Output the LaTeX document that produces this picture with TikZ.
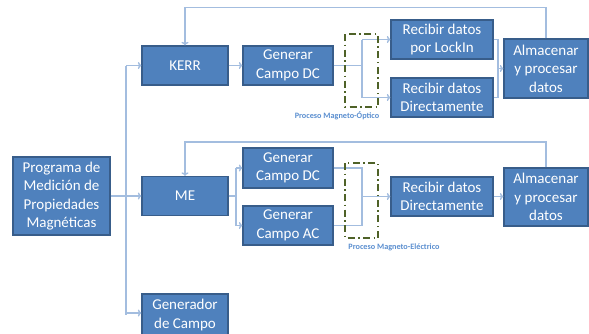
\documentclass[tikz,border=0pt]{standalone}
\usepackage{fontspec}
\setmainfont{Carlito}
\usetikzlibrary{arrows.meta,calc}
\definecolor{boxfill}{HTML}{4F81BD}
\definecolor{boxline}{HTML}{385D8A}
\definecolor{conn}{HTML}{A3BDDF}
\definecolor{olive}{HTML}{4F6228}
\definecolor{lbl}{HTML}{5B8FD0}
\tikzset{
  blk/.style={draw=boxline, line width=1.3pt, fill=boxfill, text=white, align=center,
    font=\fontsize{15}{18.5}\selectfont, inner sep=0pt},
  ln/.style={draw=conn, line width=1.4pt},
  arr/.style={ln, -{To[length=3.5pt,width=7pt]}},
  procbox/.style={draw=olive, line width=2pt, dash pattern=on 7pt off 3.5pt on 1.5pt off 3.5pt},
  lab/.style={text=lbl, font=\fontsize{8.2}{9}\selectfont\bfseries, inner sep=0pt}
}
\begin{document}
\begin{tikzpicture}[x=1pt,y=-1pt]
\useasboundingbox (0,0) rectangle (589,333);
\clip (0,0) rectangle (589,333);
\fill[white] (0,0) rectangle (589,333);
% boxes
\node[blk, minimum width=97pt, minimum height=78pt] (prog) at (61.5,196) {Programa de\\Medición de\\Propiedades\\Magnéticas};
\node[blk, minimum width=86pt, minimum height=39pt] (kerr) at (185,65.5) {KERR};
\node[blk, minimum width=90pt, minimum height=39pt] (gdc1) at (288,65.5) {Generar\\Campo DC};
\node[blk, minimum width=102pt, minimum height=39pt] (lock) at (442,39.5) {Recibir datos\\por LockIn};
\node[blk, minimum width=102pt, minimum height=39pt] (dir1) at (442,97.5) {Recibir datos\\Directamente};
\node[blk, minimum width=84pt, minimum height=59pt] (alm1) at (546,68.5) {Almacenar\\y procesar\\datos};
\node[blk, minimum width=86pt, minimum height=39pt] (me) at (185,196) {ME};
\node[blk, minimum width=90pt, minimum height=40pt] (gdc2) at (288,168) {Generar\\Campo DC};
\node[blk, minimum width=90pt, minimum height=39pt] (gac) at (288,225.5) {Generar\\Campo AC};
\node[blk, minimum width=102pt, minimum height=39pt] (dir2) at (442,196.5) {Recibir datos\\Directamente};
\node[blk, minimum width=84pt, minimum height=58pt] (alm2) at (546,197) {Almacenar\\y procesar\\datos};
\node[blk, minimum width=86pt, minimum height=42pt] (gen) at (185,315) {Generador\\de Campo};
% left distribution
\coordinate (sp) at (126,196);
\draw[arr] (prog.east) -- (me.west);
\draw[ln] (sp |- kerr.west) -- (sp |- gen.west);
\draw[arr] (sp |- kerr.west) -- (kerr.west);
\draw[arr] ($(sp |- gen.west)+(0,-2)$) -- ($(gen.west)+(0,-2)$);
% KERR branch
\draw[arr] (kerr.east) -- (gdc1.east -| gdc1.west);
\coordinate (s1) at (362,65.5);
\draw[ln] (gdc1.east) -- (s1);
\draw[ln] (s1 |- lock.west) -- (s1 |- dir1.west);
\draw[arr] (s1 |- lock.west) -- (lock.west);
\draw[arr] (s1 |- dir1.west) -- (dir1.west);
\coordinate (j1) at (498,68.5);
\draw[ln] (lock.east) -| (j1 |- dir1.east) -- (dir1.east);
\draw[arr] (j1) -- (alm1.west);
\draw[arr] (alm1.north) |- ($(kerr.north)+(0,-38)$) -- (kerr.north);
\draw[procbox] (345,34) rectangle (378,107);
\node[lab] (l1) at (337,116) {Proceso Magneto-Óptico};
% ME branch
\coordinate (s2) at (236,196);
\draw[ln] (me.east) -- (s2);
\draw[ln] (s2 |- gdc2.west) -- (s2 |- gac.west);
\draw[arr] (s2 |- gdc2.west) -- (gdc2.west);
\draw[arr] (s2 |- gac.west) -- (gac.west);
\coordinate (j2) at (362,196.5);
\draw[ln] (gdc2.east) -| (j2 |- gac.east) -- (gac.east);
\draw[arr] (j2) -- (dir2.west);
\draw[arr] (dir2.east) -- (dir2.east -| alm2.west);
\draw[arr] (alm2.north) |- ($(me.north)+(0,-34)$) -- (me.north);
\draw[procbox] (345,163) rectangle (378,238);
\node[lab] (l2) at (394,247) {Proceso Magneto-Eléctrico};
\end{tikzpicture}
\end{document}
